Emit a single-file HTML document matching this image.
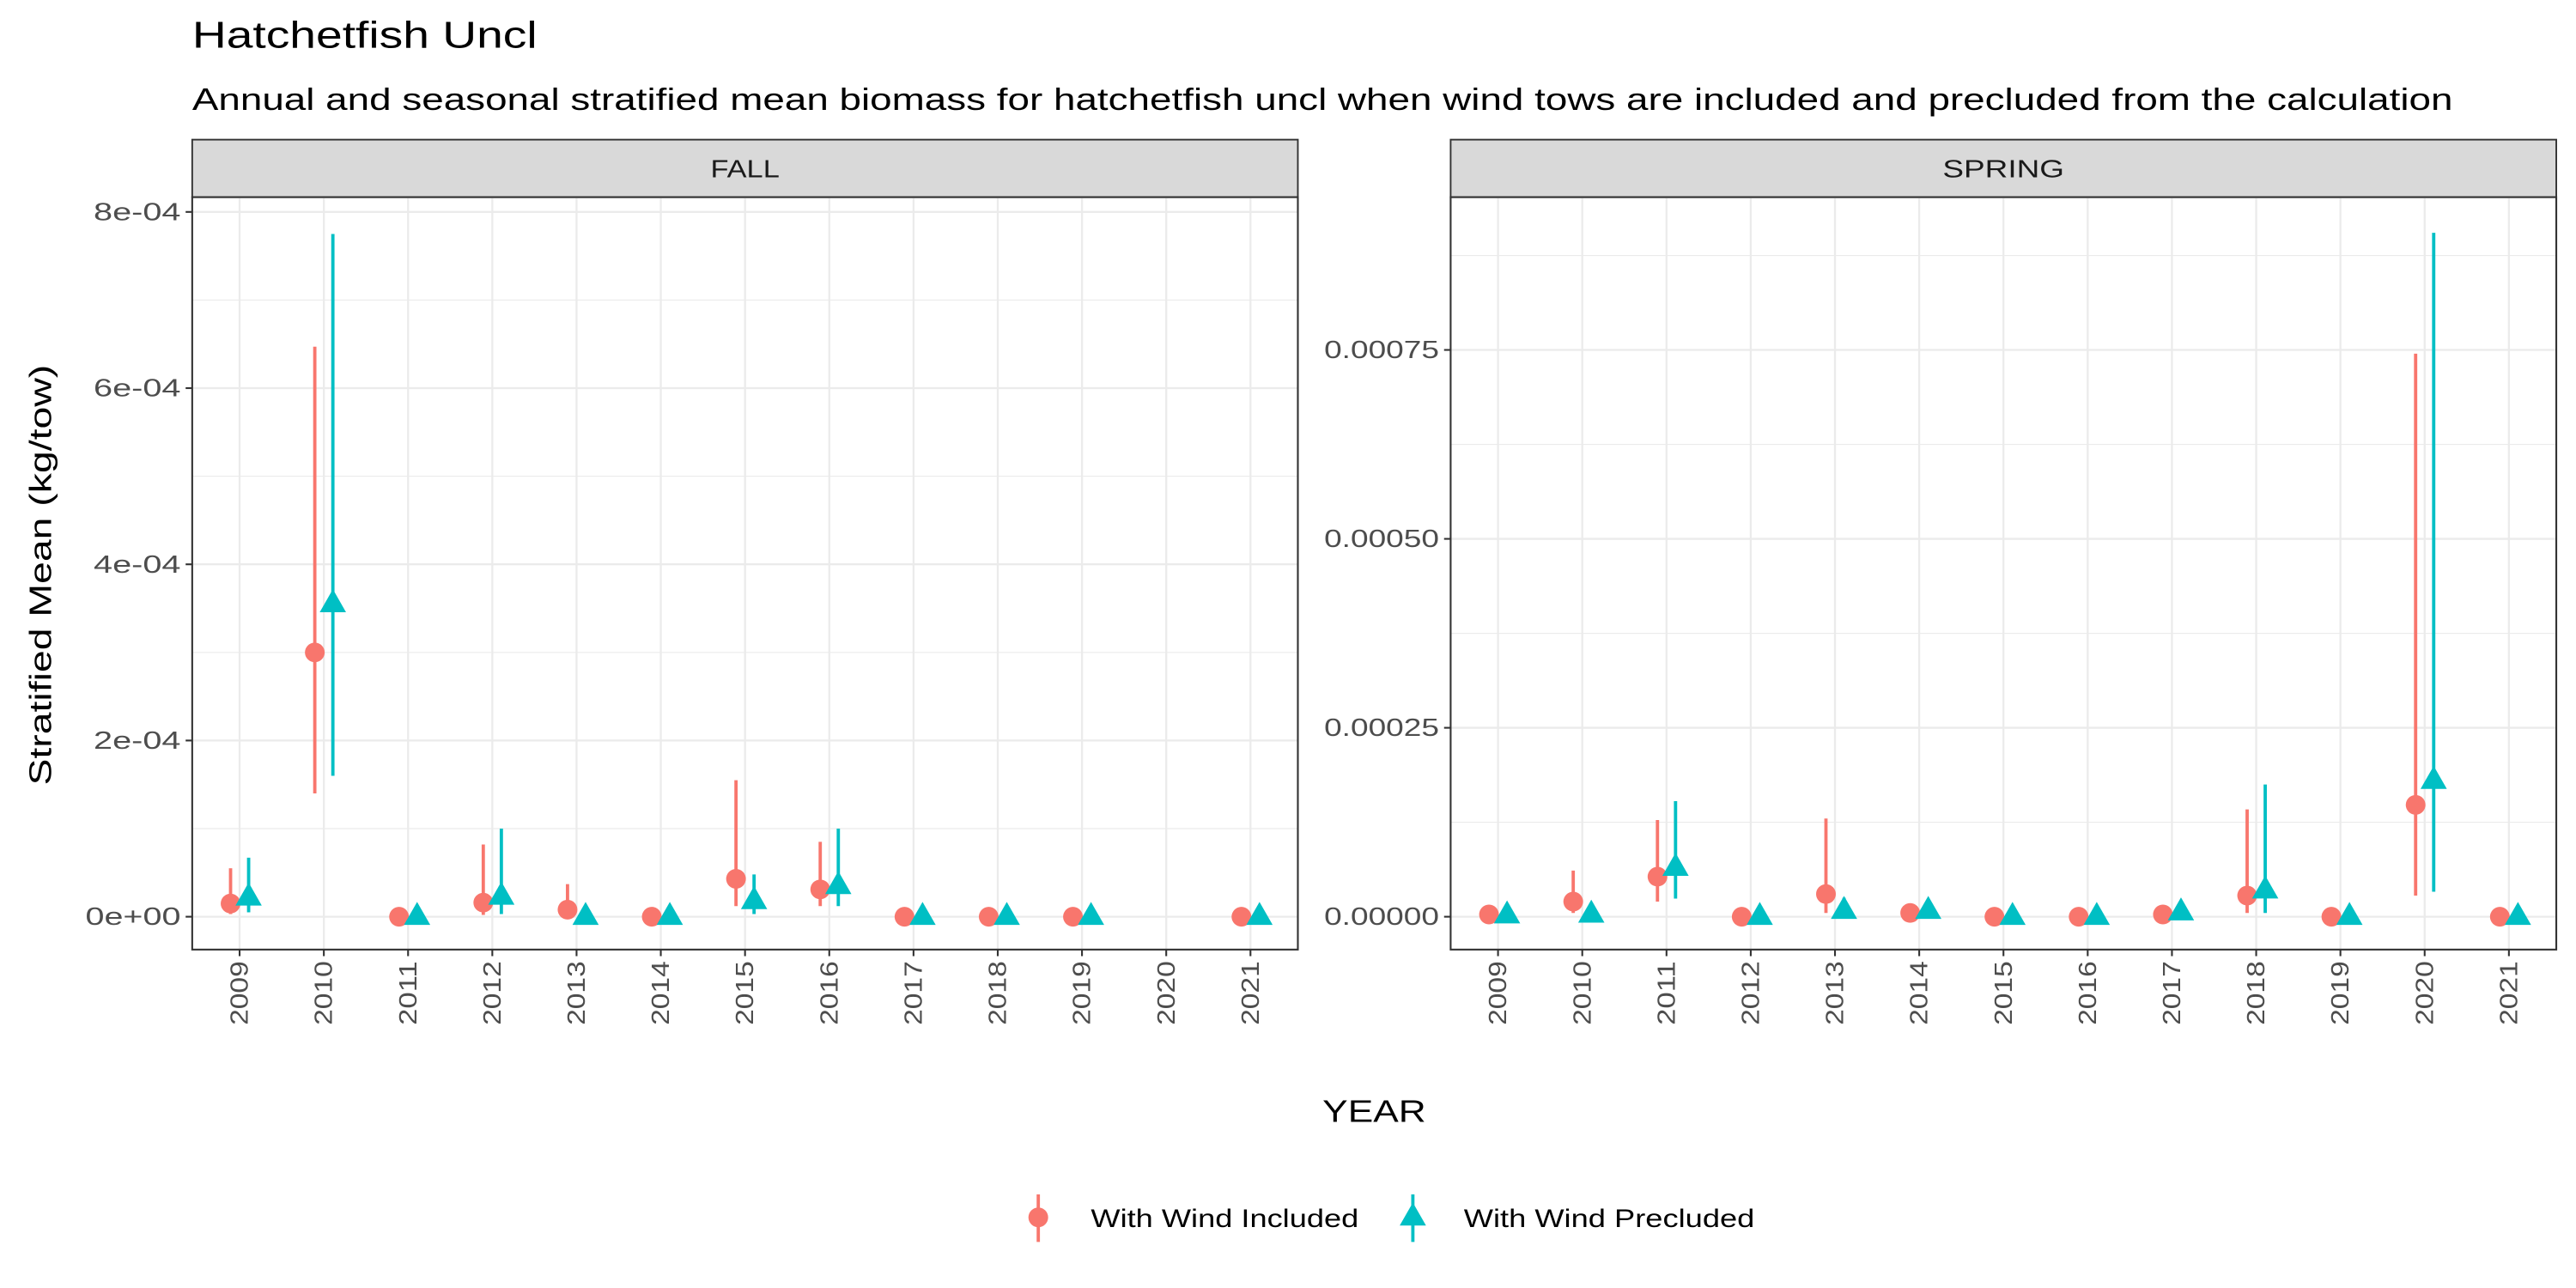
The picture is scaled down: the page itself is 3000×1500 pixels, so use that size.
<!DOCTYPE html>
<html><head><meta charset="utf-8"><style>
html,body{margin:0;padding:0;background:#fff}
svg{display:block;font-family:"Liberation Sans",Arial,sans-serif}
</style></head><body>
<svg id="chart" width="3000" height="1500" viewBox="0 0 1568 784" preserveAspectRatio="none" xmlns="http://www.w3.org/2000/svg">
<rect width="1568" height="784" fill="#fff"/>
<text x="117" y="29" font-size="23" textLength="210" lengthAdjust="spacingAndGlyphs" fill="#000">Hatchetfish Uncl</text>
<text x="117" y="67" font-size="19" textLength="1376" lengthAdjust="spacingAndGlyphs" fill="#000">Annual and seasonal stratified mean biomass for hatchetfish uncl when wind tows are included and precluded from the calculation</text>
<text transform="translate(31,350) rotate(-90)" text-anchor="middle" font-size="19" textLength="256" lengthAdjust="spacingAndGlyphs">Stratified Mean (kg/tow)</text>
<text x="805" y="683" font-size="19" textLength="63" lengthAdjust="spacingAndGlyphs">YEAR</text>
<g id="panels"></g>
<g>
<g>
<line x1="632" y1="727" x2="632" y2="756" stroke="#F8766D" stroke-width="2"/>
<circle cx="632" cy="741" r="6" fill="#F8766D"/>
<text x="664" y="747" font-size="15.5" textLength="163" lengthAdjust="spacingAndGlyphs">With Wind Included</text></g>
<g>
<line x1="860" y1="727" x2="860" y2="756" stroke="#00BFC4" stroke-width="2"/>
<polygon points="860,732 868,746 852,746" fill="#00BFC4"/>
<text x="891" y="747" font-size="15.5" textLength="177" lengthAdjust="spacingAndGlyphs">With Wind Precluded</text></g>
</g>
</svg>
<script>
const years = [2009,2010,2011,2012,2013,2014,2015,2016,2017,2018,2019,2020,2021];
const fallInc = [1.5e-5,3.0e-4,0,1.6e-5,0.8e-5,0,4.3e-5,3.1e-5,0,0,0,null,0];
const fallIncLo = [0.3e-5,1.4e-4,0,0.2e-5,0.1e-5,0,1.2e-5,1.2e-5,0,0,0,null,0];
const fallIncHi = [5.5e-5,6.47e-4,0,8.2e-5,3.7e-5,0,1.55e-4,8.5e-5,0,0,0,null,0];
const fallPre = [2.2e-5,3.55e-4,0,2.3e-5,0,0,1.8e-5,3.5e-5,0,0,0,null,0];
const fallPreLo = [0.5e-5,1.6e-4,0,0.3e-5,0,0,0.3e-5,1.2e-5,0,0,0,null,0];
const fallPreHi = [6.7e-5,7.75e-4,0,1.0e-4,0,0,4.8e-5,1.0e-4,0,0,0,null,0];
const sprInc = [0.3e-5,2.0e-5,5.3e-5,0,3.0e-5,0.5e-5,0,0,0.3e-5,2.8e-5,0,1.48e-4,0];
const sprIncLo = [0,0.5e-5,2.0e-5,0,0.5e-5,0.2e-5,0,0,0,0.5e-5,0,2.8e-5,0];
const sprIncHi = [0.5e-5,6.1e-5,1.28e-4,0,1.3e-4,0.8e-5,0,0,0.5e-5,1.42e-4,0,7.45e-4,0];
const sprPre = [0.2e-5,0.3e-5,6.5e-5,0,0.8e-5,0.8e-5,0,0,0.6e-5,3.5e-5,0,1.8e-4,0];
const sprPreLo = [0,0,2.4e-5,0,0.2e-5,0.3e-5,0,0,0.2e-5,0.5e-5,0,3.3e-5,0];
const sprPreHi = [0.4e-5,0.5e-5,1.53e-4,0,2.5e-5,1.0e-5,0,0,0.8e-5,1.75e-4,0,9.05e-4,0];
const fallTicks = [0,2e-4,4e-4,6e-4,8e-4];
const fallTickLabels = ["0e+00","2e-04","4e-04","6e-04","8e-04"];
const sprTicks = [0,0.00025,0.0005,0.00075];
const sprTickLabels = ["0.00000","0.00025","0.00050","0.00075"];

const NS="http://www.w3.org/2000/svg";
const root=document.getElementById('panels');
function mk(tag,attrs,parent){const e=document.createElementNS(NS,tag);for(const k in attrs)e.setAttribute(k,attrs[k]);parent.appendChild(e);return e;}

function panel(name,label,labelW,x0,x1,yMax,ticks,tickLabels,tickW,inc,incLo,incHi,pre,preLo,preHi){
  const top=120,bot=578,y0=558;
  const g=mk('g',{},root);
  
  
  const ys=v=>y0-(v/yMax)*(y0-129);
  const step=(x1-x0)/13.125;
  const xs=i=>x0+step*(i+0.5625);
  const dodge=5.5;
  const st=mk('rect',{x:x0,y:85,width:x1-x0,height:35,fill:'#D9D9D9',stroke:'#333','stroke-width':1},g);
  
  
  const stt=mk('text',{x:(x0+x1)/2-labelW/2,y:108,'font-size':15,textLength:labelW,lengthAdjust:'spacingAndGlyphs',fill:'#1a1a1a'},g);
  stt.textContent=label;
  
  
  for(let k=0;k<ticks.length;k++){
    const m=ticks[k]+(ticks[1]-ticks[0])/2;const yy=ys(m);
    if(yy>top) mk('line',{x1:x0,x2:x1,y1:yy,y2:yy,stroke:'#EBEBEB','stroke-width':0.6},g);
  }
  ticks.forEach((t,k)=>{const yy=ys(t);
    mk('line',{x1:x0,x2:x1,y1:yy,y2:yy,stroke:'#EBEBEB','stroke-width':1.2},g);
    mk('line',{x1:x0-4,x2:x0,y1:yy,y2:yy,stroke:'#333','stroke-width':1.1},g);
    const w=tickW[k];
    const tl=mk('text',{x:x0-7-w,y:yy+5,'font-size':15,textLength:w,lengthAdjust:'spacingAndGlyphs',fill:'#4D4D4D'},g);
    tl.textContent=tickLabels[k];
    
    
  });
  years.forEach((yr,i)=>{const xx=xs(i);
    mk('line',{x1:xx,x2:xx,y1:top,y2:bot,stroke:'#EBEBEB','stroke-width':1.2},g);
    mk('line',{x1:xx,x2:xx,y1:bot,y2:bot+4,stroke:'#333','stroke-width':1.1},g);
    const tl=mk('text',{transform:`translate(${xx+5},${bot+46}) rotate(-90)`,'font-size':15,textLength:39,lengthAdjust:'spacingAndGlyphs',fill:'#4D4D4D'},g);
    tl.textContent=yr;
    
    
  });
  mk('rect',{x:x0,y:top,width:x1-x0,height:bot-top,fill:'none',stroke:'#333','stroke-width':1.1},g);
  years.forEach((yr,i)=>{
    if(inc[i]!==null){const xx=xs(i)-dodge;
      const l=mk('line',{x1:xx,x2:xx,y1:ys(incLo[i]),y2:ys(incHi[i]),stroke:'#F8766D','stroke-width':2},g);
      
      
      const c=mk('circle',{cx:xx,cy:ys(inc[i]),r:6,fill:'#F8766D'},g);
      
      
    }
    if(pre[i]!==null){const xx=xs(i)+dodge,yy=ys(pre[i]);
      const l=mk('line',{x1:xx,x2:xx,y1:ys(preLo[i]),y2:ys(preHi[i]),stroke:'#00BFC4','stroke-width':2},g);
      
      
      const p=mk('polygon',{points:`${xx},${yy-9} ${xx+8},${yy+5} ${xx-8},${yy+5}`,fill:'#00BFC4'},g);
      
      
    }
  });
}
panel('fall','FALL',42,117,790,8e-4,fallTicks,fallTickLabels,[58,53,53,53,53],fallInc,fallIncLo,fallIncHi,fallPre,fallPreLo,fallPreHi);
panel('spring','SPRING',74,883,1556,0.00075*(558-129)/(558-213),sprTicks,sprTickLabels,[70,70,70,70],sprInc,sprIncLo,sprIncHi,sprPre,sprPreLo,sprPreHi);
</script>
</body></html>
